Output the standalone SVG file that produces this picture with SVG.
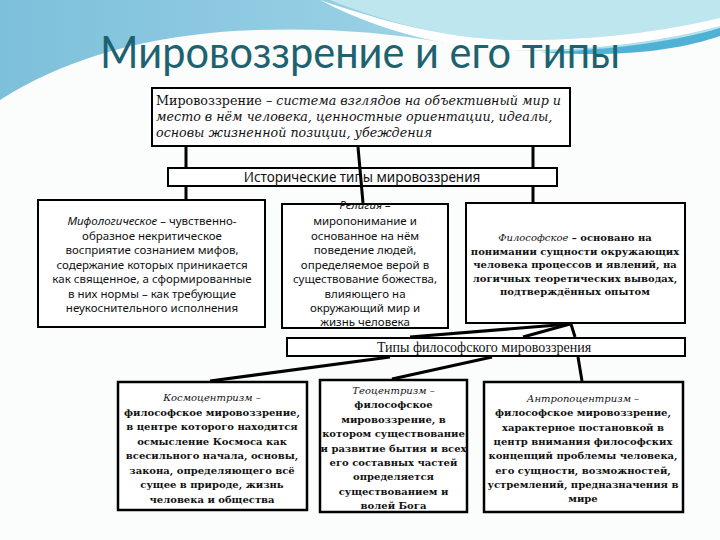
<svg xmlns="http://www.w3.org/2000/svg" width="720" height="540" viewBox="0 0 720 540">
<defs>
<linearGradient id="sky" x1="0" y1="0" x2="1" y2="0">
<stop offset="0" stop-color="#7dc0db"/>
<stop offset="0.5" stop-color="#96cfe4"/>
<stop offset="1" stop-color="#b8e3ee"/>
</linearGradient>
<style>
.box{fill:#fff;stroke:#000;stroke-width:2}
.bx{fill:#fff;stroke:#000;stroke-width:2.5}
.con line{stroke:#000;stroke-width:3;stroke-linecap:butt}
.title{font-family:Lato,"Open Sans",sans-serif;font-size:44px;fill:#1c6270}
.top{font-family:"DejaVu Serif",serif;font-size:12.7px;fill:#111}
.it{font-style:italic}
.hs{font-family:"Noto Sans","DejaVu Sans",sans-serif;font-size:13.5px;fill:#111;text-anchor:middle}
.ss{font-family:"Noto Sans","DejaVu Sans",sans-serif;font-size:11.5px;fill:#111;text-anchor:middle}
.bs{font-family:"DejaVu Serif",serif;font-size:10px;font-weight:bold;fill:#111;text-anchor:middle}
.bi{font-weight:normal;font-style:italic}
.ts{font-family:"Liberation Serif",serif;font-size:14px;fill:#111;text-anchor:middle}
</style>
</defs>
<rect width="720" height="540" fill="#fbfcfc"/>
<path d="M0,0 H720 V30 C620,55 520,56 440,42 C380,31 300,26 220,32 C130,40 60,62 0,100 Z" fill="url(#sky)"/>
<path d="M330,0 H720 V18 C660,32 600,40 520,40 C450,40 385,22 330,0 Z" fill="#bde6ef"/>
<path d="M320,0 C385,22 450,40 520,40 C600,40 660,32 720,18 L720,26 C650,44 590,50 520,50 C440,50 370,26 320,0 Z" fill="#ffffff"/>
<path d="M540,52 C620,50 680,40 720,28 V36 C680,50 620,58 540,52 Z" fill="#4fb2d5"/>
<text class="title" x="360" y="68" text-anchor="middle" textLength="520" lengthAdjust="spacingAndGlyphs">Мировоззрение и его типы</text>

<g id="node-worldview">
<rect class="box" x="152" y="88" width="418" height="58"/>
<text class="top" x="156" y="105"><tspan>Мировоззрение – </tspan><tspan class="it">система взглядов на объективный мир и</tspan></text>
<text class="top it" x="156" y="121">место в нём человека, ценностные ориентации, идеалы,</text>
<text class="top it" x="156" y="137">основы жизненной позиции, убеждения</text>
</g>

<g id="node-historical">
<rect class="box" x="168" y="168" width="389" height="18"/>
<text class="hs" x="362" y="182">Исторические типы мировоззрения</text>
</g>

<g id="node-myth">
<rect class="box" x="38" y="200" width="227" height="127"/>
<text class="ss" x="152" y="225"><tspan font-style="italic">Мифологическое</tspan> – чувственно-</text>
<text class="ss" x="152" y="239.5">образное некритическое</text>
<text class="ss" x="152" y="254">восприятие сознанием мифов,</text>
<text class="ss" x="152" y="268.5">содержание которых приникается</text>
<text class="ss" x="152" y="283">как священное, а сформированные</text>
<text class="ss" x="152" y="297.5">в них нормы – как требующие</text>
<text class="ss" x="152" y="312">неукоснительного исполнения</text>
</g>

<g id="node-religion">
<rect class="box" x="282" y="204" width="166" height="124"/>
<text class="ss" x="365" y="209" font-style="italic">Религия –</text>
<text class="ss" x="365" y="225">миропонимание и</text>
<text class="ss" x="365" y="239.5">основанное на нём</text>
<text class="ss" x="365" y="254">поведение людей,</text>
<text class="ss" x="365" y="268.5">определяемое верой в</text>
<text class="ss" x="365" y="283">существование божества,</text>
<text class="ss" x="365" y="297.5">влияющего на</text>
<text class="ss" x="365" y="312">окружающий мир и</text>
<text class="ss" x="365" y="326">жизнь человека</text>
</g>

<g id="node-philosophy">
<rect class="box" x="466" y="203" width="219" height="120"/>
<text class="bs" x="575" y="241"><tspan class="bi">Философское</tspan> – основано на</text>
<text class="bs" x="575" y="254.5">понимании сущности окружающих</text>
<text class="bs" x="575" y="268">человека процессов и явлений, на</text>
<text class="bs" x="575" y="281.5">логичных  теоретических выводах,</text>
<text class="bs" x="575" y="295">подтверждённых опытом</text>
</g>

<g id="node-phil-types">
<rect class="box" x="287" y="338" width="398" height="18"/>
<text class="ts" x="484" y="352">Типы философского мировоззрения</text>
</g>

<g id="node-cosmo">
<rect class="bx" x="118" y="382" width="189" height="128"/>
<text class="bs" x="212" y="401"><tspan class="bi">Космоцентризм –</tspan></text>
<text class="bs" x="212" y="415.5">философское мировоззрение,</text>
<text class="bs" x="212" y="430">в центре которого находится</text>
<text class="bs" x="212" y="444.5">осмысление Космоса как</text>
<text class="bs" x="212" y="459">всесильного начала, основы,</text>
<text class="bs" x="212" y="473.5">закона, определяющего всё</text>
<text class="bs" x="212" y="488">сущее в природе, жизнь</text>
<text class="bs" x="212" y="502.5">человека и общества</text>
</g>

<g id="node-theo">
<rect class="bx" x="320" y="380" width="147" height="132"/>
<text class="bs" x="393.5" y="394"><tspan class="bi">Теоцентризм –</tspan></text>
<text class="bs" x="393.5" y="408.4">философское</text>
<text class="bs" x="393.5" y="422.8">мировоззрение, в</text>
<text class="bs" x="393.5" y="437.2">котором существование</text>
<text class="bs" x="393.5" y="451.6">и развитие бытия и всех</text>
<text class="bs" x="393.5" y="466">его составных частей</text>
<text class="bs" x="393.5" y="480.4">определяется</text>
<text class="bs" x="393.5" y="494.8">существованием и</text>
<text class="bs" x="393.5" y="509.2">волей Бога</text>
</g>

<g id="node-anthro">
<rect class="bx" x="484" y="382" width="199" height="130"/>
<text class="bs" x="583" y="402"><tspan class="bi">Антропоцентризм –</tspan></text>
<text class="bs" x="583" y="416.3">философское мировоззрение,</text>
<text class="bs" x="583" y="430.6">характерное постановкой в</text>
<text class="bs" x="583" y="444.9">центр внимания философских</text>
<text class="bs" x="583" y="459.2">концепций проблемы человека,</text>
<text class="bs" x="583" y="473.5">его сущности, возможностей,</text>
<text class="bs" x="583" y="487.8">устремлений, предназначения в</text>
<text class="bs" x="583" y="502.1">мире</text>
</g>

<g id="connectors" class="con">
<line x1="186" y1="147" x2="186" y2="167"/>
<line x1="186" y1="187" x2="186" y2="199"/>
<line x1="533" y1="147" x2="533" y2="167"/>
<line x1="533" y1="187" x2="533" y2="202"/>
<line x1="358" y1="147" x2="363" y2="203"/>
<line x1="570" y1="324" x2="410" y2="337"/>
<line x1="570" y1="324" x2="523" y2="337"/>
<line x1="571" y1="324" x2="575" y2="337"/>
<line x1="578" y1="357" x2="582" y2="381"/>
<line x1="390" y1="357" x2="210" y2="381"/>
<line x1="492" y1="357" x2="392" y2="379"/>
</g>
</svg>
